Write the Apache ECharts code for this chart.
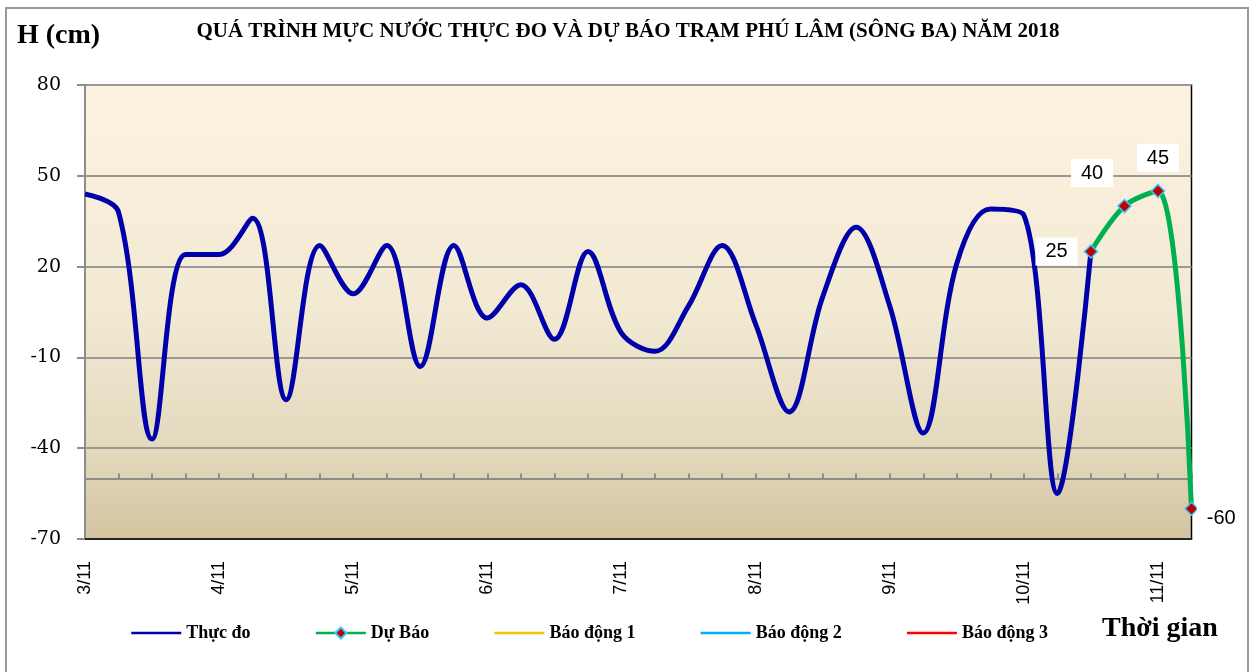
<!DOCTYPE html>
<html>
<head>
<meta charset="utf-8">
<script src="https://cdn.jsdelivr.net/npm/echarts@6/dist/echarts.min.js"></script>
<style>
html,body{margin:0;padding:0;background:#fff;}
#chart{width:1256px;height:672px;}
</style>
</head>
<body>
<div id="chart"></div>
<script>
// ---- data ----
const categories = [
  "3/11 1h","3/11 7h","3/11 13h","3/11 19h",
  "4/11 1h","4/11 7h","4/11 13h","4/11 19h",
  "5/11 1h","5/11 7h","5/11 13h","5/11 19h",
  "6/11 1h","6/11 7h","6/11 13h","6/11 19h",
  "7/11 1h","7/11 7h","7/11 13h","7/11 19h",
  "8/11 1h","8/11 7h","8/11 13h","8/11 19h",
  "9/11 1h","9/11 7h","9/11 13h","9/11 19h",
  "10/11 1h","10/11 7h","10/11 13h","10/11 19h",
  "11/11 1h","11/11 7h"
];
const thucDo = [44,38,-37,24,24,36,-24,27,11,27,-13,27,3,14,-4,25,-2,-8,7,27,1,-28,10,33,7,-35,21,39,37,-55,25,null,null,null];
const duBao = [null,null,null,null,null,null,null,null,null,null,null,null,null,null,null,null,null,null,null,null,null,null,null,null,null,null,null,null,null,null,25,40,45,-60];
const baoDong1 = [];
const baoDong2 = [];
const baoDong3 = [];
const yTicks = [-70,-40,-10,20,50,80];
const seriesNames = ["Thực đo","Dự Báo","Báo động 1","Báo động 2","Báo động 3"];
const titleText = "QUÁ TRÌNH MỰC NƯỚC THỰC ĐO VÀ DỰ BÁO TRẠM PHÚ LÂM (SÔNG BA) NĂM 2018";
const yName = "H (cm)";
const xName = "Thời gian";

// ---- layout / style ----
const GL = 85, GR = 64.5, GT = 85, GB = 133;
const labelStyles = {
  30: {position:'left', distance:6, offset:[0,0]},
  31: {position:'left', distance:4, offset:[0,-33]},
  32: {position:'top', distance:12, offset:[0,0]},
  33: {position:'right', distance:0, offset:[-2,10]}
};
const duBaoData = duBao.map((v,i) => {
  if (v === null) return null;
  const ls = labelStyles[i];
  return {value:v, label: ls ? {show:true, position:ls.position, distance:ls.distance, offset:ls.offset} : {show:false}};
});

const chart = echarts.init(document.getElementById('chart'));
const serif = "'Liberation Serif', 'Times New Roman', serif";
const legendData = seriesNames.map((n,i) => i === 1 ? {name:n} : {name:n, itemStyle:{opacity:0}});
const option = {
  animation:false,
  backgroundColor:'#fff',
  graphic:[
    {type:'rect', shape:{x:6,y:8,width:1242,height:700}, style:{fill:'none', stroke:'#999', lineWidth:2}, z:-10},
    {type:'text', left:'center', top:21, style:{text:titleText, font:"bold 21px "+serif, fill:'#000'}},
    {type:'text', left:17, top:22, style:{text:yName, font:"bold 28px "+serif, fill:'#000'}},
    {type:'text', left:1102, top:615, style:{text:xName, font:"bold 28px "+serif, fill:'#000'}}
  ],
  legend:{
    left:130, top:624, padding:0,
    itemWidth:50, itemHeight:14, itemGap:64,
    textStyle:{fontFamily:serif, fontWeight:'bold', fontSize:18, color:'#000'},
    lineStyle:{width:2.5},
    data:legendData
  },
  grid:[
    {left:GL, right:GR, top:GT, bottom:GB, show:true, borderColor:'#000', borderWidth:1.5,
     backgroundColor:{type:'linear', x:0, y:0, x2:0, y2:1, colorStops:[
       {offset:0, color:'#FDF3E0'},{offset:0.5, color:'#F2E9D3'},{offset:0.8, color:'#E3D9BD'},{offset:1, color:'#D2C4A0'}]}},
    {left:GL, right:GR, top:GT, height:393.5, show:false}
  ],
  xAxis:[
    {type:'category', gridIndex:0, data:categories, boundaryGap:false,
     axisLine:{show:true, onZero:false, lineStyle:{color:'#000', width:1.5}},
     axisTick:{show:false},
     axisLabel:{interval:3, rotate:90, margin:22, fontFamily:"'Liberation Sans', Arial, sans-serif", fontSize:18, color:'#000',
       formatter:(v)=>v.split(' ')[0]},
     splitLine:{show:false}},
    {type:'category', gridIndex:1, data:categories, boundaryGap:false,
     axisLine:{show:true, onZero:false, lineStyle:{color:'#8c8c8c', width:2}},
     axisTick:{show:true, inside:true, length:5, interval:0, lineStyle:{color:'#8c8c8c', width:2}},
     axisLabel:{show:false}, splitLine:{show:false}}
  ],
  yAxis:[
    {type:'value', gridIndex:0, min:yTicks[0], max:yTicks[yTicks.length-1], interval:30,
     axisLine:{show:true, lineStyle:{color:'#8c8c8c', width:2}},
     axisTick:{show:true, length:8, lineStyle:{color:'#8c8c8c', width:2}},
     axisLabel:{margin:24, fontFamily:"'DejaVu Serif', serif", fontSize:19, color:'#000'},
     splitLine:{show:true, lineStyle:{color:'#999', width:2}}},
    {type:'value', gridIndex:1, min:-50, max:80, show:false}
  ],
  series:[
    {name:seriesNames[0], type:'line', xAxisIndex:0, yAxisIndex:0, data:thucDo, smooth:0.35, symbol:'none',
     lineStyle:{color:'#0000AA', width:5}, itemStyle:{color:'#0000AA'}, z:5},
    {name:seriesNames[1], type:'line', xAxisIndex:0, yAxisIndex:0, data:duBaoData, smooth:0.35,
     symbol:'diamond', symbolSize:13, showAllSymbol:true,
     lineStyle:{color:'#00B050', width:5},
     itemStyle:{color:'#C00000', borderColor:'#33CCFF', borderWidth:1.5},
     label:{show:false, color:'#000', fontFamily:"'Liberation Sans', Arial, sans-serif", fontSize:20,
       backgroundColor:'#fff', padding:[5,10,3,10]},
     z:6},
    {name:seriesNames[2], type:'line', data:baoDong1, symbol:'none', lineStyle:{color:'#FFC000', width:2}, itemStyle:{color:'#FFC000'}},
    {name:seriesNames[3], type:'line', data:baoDong2, symbol:'none', lineStyle:{color:'#00B0F0', width:2}, itemStyle:{color:'#00B0F0'}},
    {name:seriesNames[4], type:'line', data:baoDong3, symbol:'none', lineStyle:{color:'#FF0000', width:2}, itemStyle:{color:'#FF0000'}}
  ]
};
chart.setOption(option);
</script>
</body>
</html>
